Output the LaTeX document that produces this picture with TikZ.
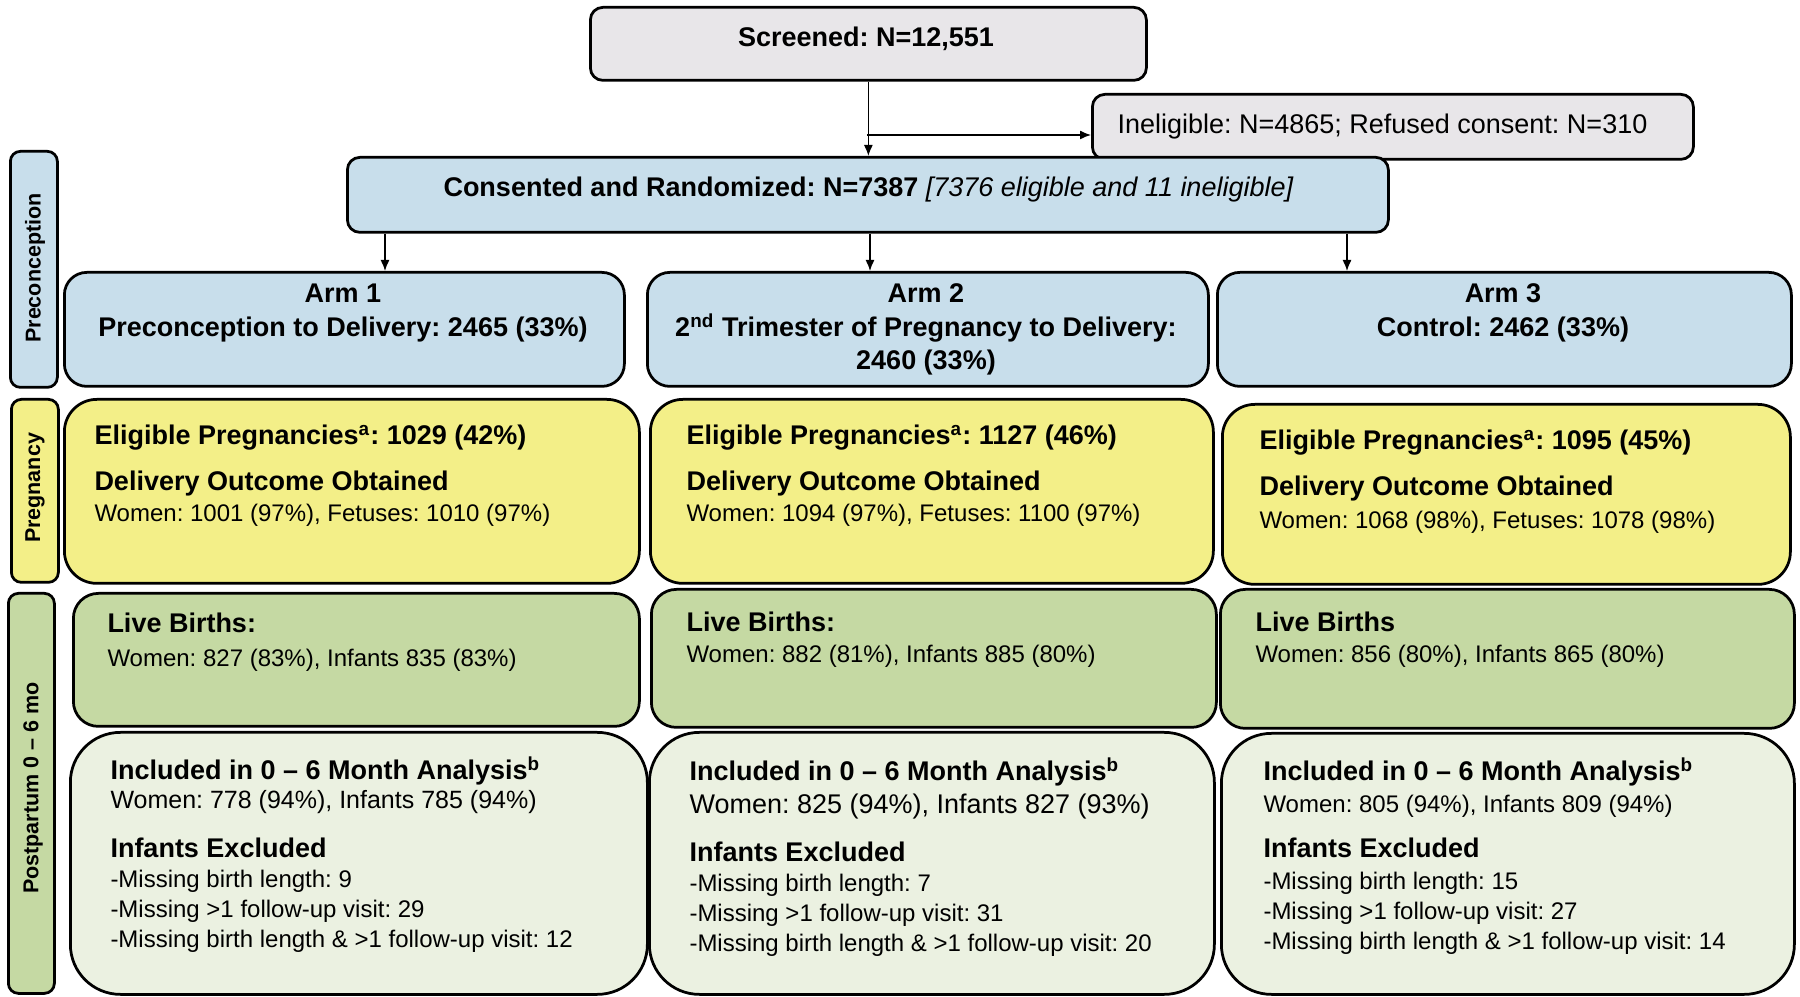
\documentclass[tikz,border=0pt]{standalone}
\usepackage{fontspec}
\setmainfont{Liberation Sans}
\usetikzlibrary{arrows.meta}
\frenchspacing
\definecolor{cgray}{HTML}{E8E6E9}
\definecolor{cblue}{HTML}{C8DEEB}
\definecolor{cyel}{HTML}{F3EF88}
\definecolor{cgreen}{HTML}{C5D9A3}
\definecolor{clight}{HTML}{EBF1E1}
\newcommand{\fb}{\fontsize{10.8}{13}\selectfont\bfseries}
\newcommand{\fr}{\fontsize{9.6}{12}\selectfont}
\newcommand{\frm}{\fontsize{10.0}{12}\selectfont}
\newcommand{\frl}{\fontsize{10.8}{13}\selectfont}
\newcommand{\fside}{\fontsize{8.6}{10}\selectfont\bfseries}
\newcommand{\mkbox}[6]{%
  \pgfmathsetmacro\mkbw{(#5-#3)*0.4}%
  \pgfmathsetmacro\mkbh{(#6-#4)*0.4}%
  \node[#2,minimum width=\mkbw pt,minimum height=\mkbh pt,inner sep=0pt,anchor=north west] (#1) at (#3,#4) {};}
\newcommand{\tx}[4]{\node[txt,anchor=base west] (#1) at (#2,#3) {#4};}
\newcommand{\tc}[4]{\node[txt,anchor=base] (#1) at (#2,#3) {#4};}
\begin{document}
\begin{tikzpicture}[x=0.4pt,y=-0.4pt,
  bx/.style={draw=black,line width=1.1pt},
  graybox/.style={bx,fill=cgray,rounded corners=5pt},
  bluebox/.style={bx,fill=cblue,rounded corners=5pt},
  armbox/.style={bx,fill=cblue,rounded corners=9pt},
  sidebox/.style={bx,rounded corners=4pt},
  yelbox/.style={bx,fill=cyel,rounded corners=13pt},
  grnbox/.style={bx,fill=cgreen,rounded corners=10pt},
  ltbox/.style={bx,fill=clight,rounded corners=20pt},
  txt/.style={inner sep=0pt,text=black},
  arr/.style={line width=0.55pt,-{Latex[length=4.4pt,width=3.6pt]}}]
\useasboundingbox (0,0) rectangle (1800,997);
% boxes
\mkbox{scr}{graybox}{589}{6}{1145}{79}
\mkbox{ine}{graybox}{1091}{93}{1692}{158}
\mkbox{cons}{bluebox}{346}{156}{1387}{231}
\mkbox{arm1}{armbox}{63}{271}{623}{385}
\mkbox{arm2}{armbox}{646}{271}{1207}{385}
\mkbox{arm3}{armbox}{1216}{271}{1790}{385}
\mkbox{side1}{sidebox,fill=cblue}{9}{150}{56}{386}
\mkbox{yel1}{yelbox}{63}{398}{638}{582}
\mkbox{yel2}{yelbox}{649}{398}{1212}{582}
\mkbox{yel3}{yelbox}{1221}{403}{1789}{583}
\mkbox{side2}{sidebox,fill=cyel}{10}{398}{57}{581}
\mkbox{grn1}{grnbox}{72}{592}{638}{725}
\mkbox{grn2}{grnbox}{650}{588}{1215}{726}
\mkbox{grn3}{grnbox}{1219}{588}{1793}{727}
\mkbox{side3}{sidebox,fill=cgreen}{7}{592}{53}{992}
\mkbox{lt1}{ltbox}{69}{731}{646}{993}
\mkbox{lt2}{ltbox}{648}{731}{1213}{993}
\mkbox{lt3}{ltbox}{1220}{732}{1793}{993}
% side labels
\node[txt,rotate=90,font=\fside] (s1) at (35,268) {Preconception};
\node[txt,rotate=90,font=\fside] (s2) at (35,488) {Pregnancy};
\node[txt,rotate=90,font=\fside] (s3) at (33,788) {Postpartum 0 -- 6 mo};
% top texts
\tc{tscr}{866}{47}{\fb Screened: N=12,551}
\tx{tine}{1117}{134}{\frl Ineligible: N=4865; Refused consent: N=310}
\tx{tcons}{443}{197}{\fb Consented and Randomized: N=7387 \mdseries\itshape [7376 eligible and 11 ineligible]}
% arms
\tc{a1a}{343}{303}{\fb Arm 1}
\tc{a1b}{343}{337}{\fb Preconception to Delivery: 2465 (33\%)}
\tc{a2a}{926}{303}{\fb Arm 2}
\tc{a2b}{926}{337}{\fb 2\textsuperscript{nd} Trimester of Pregnancy to Delivery:}
\tc{a2c}{926}{370}{\fb 2460 (33\%)}
\tc{a3a}{1503}{303}{\fb Arm 3}
\tc{a3b}{1503}{337}{\fb Control: 2462 (33\%)}
% yellow
\tx{y1a}{94}{445}{\fb Eligible Pregnancies\textsuperscript{a}: 1029 (42\%)}
\tx{y1b}{94}{491}{\fb Delivery Outcome Obtained}
\tx{y1c}{94}{522}{\fr Women: 1001 (97\%), Fetuses: 1010 (97\%)}
\tx{y2a}{686}{445}{\fb Eligible Pregnancies\textsuperscript{a}: 1127 (46\%)}
\tx{y2b}{686}{491}{\fb Delivery Outcome Obtained}
\tx{y2c}{686}{522}{\fr Women: 1094 (97\%), Fetuses: 1100 (97\%)}
\tx{y3a}{1259}{450}{\fb Eligible Pregnancies\textsuperscript{a}: 1095 (45\%)}
\tx{y3b}{1259}{496}{\fb Delivery Outcome Obtained}
\tx{y3c}{1259}{529}{\fr Women: 1068 (98\%), Fetuses: 1078 (98\%)}
% green
\tx{g1a}{107}{633}{\fb Live Births:}
\tx{g1b}{107}{667}{\fr Women: 827 (83\%), Infants 835 (83\%)}
\tx{g2a}{686}{632}{\fb Live Births:}
\tx{g2b}{686}{663}{\fr Women: 882 (81\%), Infants 885 (80\%)}
\tx{g3a}{1255}{632}{\fb Live Births}
\tx{g3b}{1255}{663}{\fr Women: 856 (80\%), Infants 865 (80\%)}
% light green
\tx{l1a}{110}{780}{\fb Included in 0 -- 6 Month Analysis\textsuperscript{b}}
\tx{l1b}{110}{809}{\frm Women: 778 (94\%), Infants 785 (94\%)}
\tx{l1c}{110}{857}{\fb Infants Excluded}
\tx{l1d}{110}{887}{\fr -Missing birth length: 9}
\tx{l1e}{110}{917}{\fr -Missing >1 follow-up visit: 29}
\tx{l1f}{110}{947}{\fr -Missing birth length \& >1 follow-up visit: 12}
\tx{l2a}{689}{781}{\fb Included in 0 -- 6 Month Analysis\textsuperscript{b}}
\tx{l2b}{689}{814}{\frl Women: 825 (94\%), Infants 827 (93\%)}
\tx{l2c}{689}{861}{\fb Infants Excluded}
\tx{l2d}{689}{892}{\fr -Missing birth length: 7}
\tx{l2e}{689}{922}{\fr -Missing >1 follow-up visit: 31}
\tx{l2f}{689}{951}{\fr -Missing birth length \& >1 follow-up visit: 20}
\tx{l3a}{1263}{781}{\fb Included in 0 -- 6 Month Analysis\textsuperscript{b}}
\tx{l3b}{1263}{813}{\fr Women: 805 (94\%), Infants 809 (94\%)}
\tx{l3c}{1263}{858}{\fb Infants Excluded}
\tx{l3d}{1263}{889}{\fr -Missing birth length: 15}
\tx{l3e}{1263}{919}{\fr -Missing >1 follow-up visit: 27}
\tx{l3f}{1263}{949}{\fr -Missing birth length \& >1 follow-up visit: 14}
% connectors
\coordinate (br) at (867,135);
\coordinate (xa) at (385,0);
\coordinate (xb) at (870,0);
\coordinate (xc) at (1347,0);
\draw[arr] (scr.south) -- (scr.south |- cons.north);
\draw[arr] (br) -- (br -| ine.west);
\draw[arr] (cons.south -| xa) -- (arm1.north -| xa);
\draw[arr] (cons.south -| xb) -- (arm2.north -| xb);
\draw[arr] (cons.south -| xc) -- (arm3.north -| xc);
\end{tikzpicture}
\end{document}
